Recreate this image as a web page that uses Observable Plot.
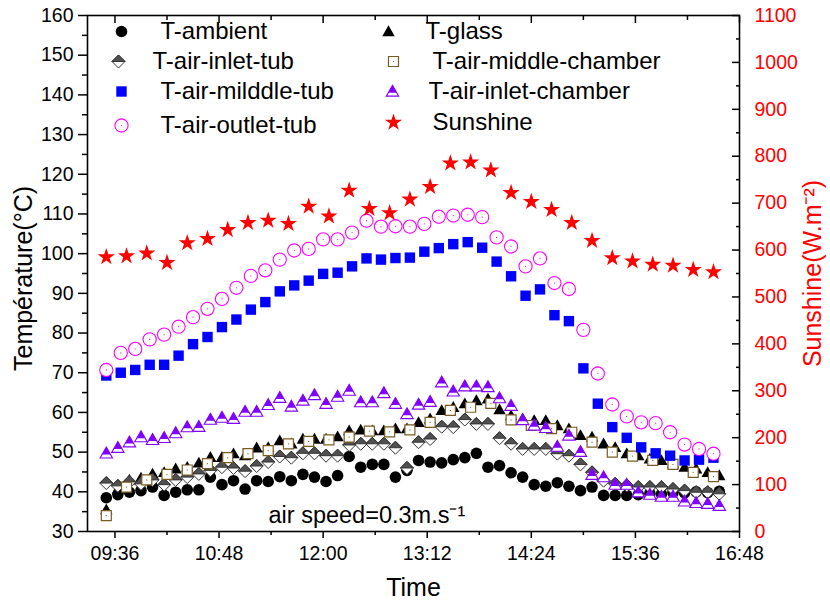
<!DOCTYPE html>
<html>
<head>
<meta charset="utf-8">
<script src="https://cdn.jsdelivr.net/npm/d3@7"></script>
<script src="https://cdn.jsdelivr.net/npm/@observablehq/plot@0.6"></script>
<style>
  html, body { margin: 0; padding: 0; background: #fff; }
  #chart svg { display: block; }
</style>
</head>
<body>
<div id="chart"></div>
<script>
// ---------------- DATA ----------------
// Sampling times (every 8 min) for T-ambient, T-glass, T-air-inlet-tub, T-air-inlet-chamber
const times8 = ["09:30","09:38","09:46","09:54","10:02","10:10","10:18","10:26","10:34","10:42",
  "10:50","10:58","11:06","11:14","11:22","11:30","11:38","11:46","11:54","12:02",
  "12:10","12:18","12:26","12:34","12:42","12:50","12:58","13:06","13:14","13:22",
  "13:30","13:38","13:46","13:54","14:02","14:10","14:18","14:26","14:34","14:42",
  "14:50","14:58","15:06","15:14","15:22","15:30","15:38","15:46","15:54","16:02",
  "16:10","16:18","16:26","16:34"];
// Sampling times (every 10 min) for T-air-milddle-tub, T-air-outlet-tub
const times10 = ["09:30","09:40","09:50","10:00","10:10","10:20","10:30","10:40","10:50","11:00",
  "11:10","11:20","11:30","11:40","11:50","12:00","12:10","12:20","12:30","12:40",
  "12:50","13:00","13:10","13:20","13:30","13:40","13:50","14:00","14:10","14:20",
  "14:30","14:40","14:50","15:00","15:10","15:20","15:30","15:40","15:50","16:00",
  "16:10","16:20","16:30"];
// Sampling times (every 14 min) for T-air-middle-chamber, Sunshine
const times14 = ["09:30","09:44","09:58","10:12","10:26","10:40","10:54","11:08","11:22","11:36",
  "11:50","12:04","12:18","12:32","12:46","13:00","13:14","13:28","13:42","13:56",
  "14:10","14:24","14:38","14:52","15:06","15:20","15:34","15:48","16:02","16:16","16:30"];

const tAmbient = [38.5,39.3,39.9,40.3,41.2,39.1,39.9,40.5,40.5,43.7,
  41.8,42.8,40.7,42.8,42.6,43.8,42.8,44.4,43.7,42.6,
  44.1,48.9,46.2,46.9,46.9,43.7,45.4,47.9,47.5,47.3,
  48.1,48.6,49.7,46.2,46.6,44.8,43.7,41.8,41.4,42.3,
  41.4,40.3,41.2,39.1,39.1,39.1,39.3,39.6,39.4,39.8,
  39.7,40.0,39.8,40.1];
const tGlass = [35.5,40.7,43.0,43.5,44.5,44.9,45.8,46.2,47.3,48.7,
  48.7,49.6,49.1,51.1,51.2,52.9,52.1,53.3,53.3,53.3,
  53.9,55.4,55.6,55.4,55.4,55.9,55.9,57.5,58.4,60.5,
  61.3,62.2,63.0,63.4,60.7,59.2,58.4,58.0,58.0,56.7,
  55.9,54.2,53.8,52.1,51.2,49.6,49.1,48.3,47.9,47.1,
  46.2,45.8,44.9,44.1];
const tAirInletTub = [42.2,41.5,42.5,42.0,43.0,41.8,43.0,43.7,44.5,45.4,
  46.2,46.0,45.2,46.5,47.5,48.9,48.6,49.7,49.7,49.1,
  49.1,51.8,52.1,52.1,52.1,51.1,46.0,52.5,53.3,56.4,
  56.3,58.2,57.1,57.1,53.5,52.1,50.8,50.8,50.8,49.6,
  49.1,46.9,44.9,42.8,42.0,41.6,41.2,41.2,41.2,40.7,
  40.3,39.9,39.9,39.5];
const tAirInletChamber = [49.7,51.1,52.5,53.8,53.1,53.6,54.8,56.3,56.4,58.2,
  58.7,58.4,60.2,60.2,61.9,63.7,61.5,63.0,64.4,62.2,
  64.0,65.5,62.6,62.6,64.9,62.2,59.6,62.0,62.7,67.6,
  65.3,66.6,66.6,66.4,63.6,61.7,58.1,56.7,56.1,51.4,
  54.2,50.1,44.3,43.7,41.8,41.8,39.9,39.3,38.8,38.8,
  37.6,37.2,37.0,36.5];
const tAirMilddleTub = [69.3,70.0,70.7,72.0,72.0,74.3,77.2,79.0,81.5,83.4,
  85.9,87.8,90.5,92.0,93.2,94.9,95.2,96.8,98.8,98.5,
  98.9,99.0,100.5,101.4,102.4,102.9,101.5,98.0,94.3,89.4,
  91.0,84.5,83.0,71.1,62.2,56.3,53.6,51.2,49.7,49.1,
  47.9,48.1,48.6];
const tAirOutletTub = [70.7,75.0,76.0,78.4,79.6,81.6,84.0,86.1,88.6,91.4,
  94.4,95.8,98.5,100.8,101.2,103.6,103.6,105.3,108.3,106.8,
  106.9,106.8,107.5,109.3,109.6,109.8,109.2,104.1,101.8,96.8,
  98.8,92.6,91.1,80.8,69.8,62.0,59.0,57.5,57.3,55.0,
  51.9,50.8,49.6];
const tAirMiddleChamber = [34.0,41.2,43.0,44.4,45.5,47.1,48.6,49.6,50.4,52.1,
  52.7,53.1,53.8,55.3,55.1,55.6,57.5,60.5,61.3,62.3,
  58.1,56.7,55.9,55.0,52.5,50.0,49.0,47.9,46.9,44.9,
  43.8];
const sunshine = [585,587,593,573,615,624,643,658,663,656,
  693,672,727,688,679,708,735,785,787,770,
  722,703,686,658,620,583,576,569,567,558,
  553];

// Axis ticks and labels
const xMajorTicks = ["09:36","10:48","12:00","13:12","14:24","15:36","16:48"];
const xMinorTicks = ["10:12","11:24","12:36","13:48","15:00","16:12"];
const xDomain = ["09:17","16:48"];
const tempDomain = [30, 160];
const tempMajorTicks = [30,40,50,60,70,80,90,100,110,120,130,140,150,160];
const tempMinorTicks = [35,45,55,65,75,85,95,105,115,125,135,145,155];
const sunDomain = [0, 1100];
const sunMajorTicks = [0,100,200,300,400,500,600,700,800,900,1000,1100];
const sunMinorTicks = [50,150,250,350,450,550,650,750,850,950,1050];

const legendLabels = ["T-ambient","T-glass","T-air-inlet-tub","T-air-middle-chamber",
  "T-air-milddle-tub","T-air-inlet-chamber","T-air-outlet-tub","Sunshine"];
const xTitle = "Time";
const yTitle = "Température(°C)";
const y2Title = "Sunshine(W.m⁻²)";
const note = "air speed=0.3m.s⁻¹";

// ---------------- HELPERS ----------------
const toMin = s => +s.slice(0, 2) * 60 + +s.slice(3, 5);
const fmtTime = m => String(Math.floor(m / 60)).padStart(2, "0") + ":" + String(Math.round(m % 60)).padStart(2, "0");
// map Sunshine (right axis) onto the temperature scale (shared y scale)
const sunToT = s => tempDomain[0] + (s - sunDomain[0]) * (tempDomain[1] - tempDomain[0]) / (sunDomain[1] - sunDomain[0]);
const tToSun = t => sunDomain[0] + (t - tempDomain[0]) * (sunDomain[1] - sunDomain[0]) / (tempDomain[1] - tempDomain[0]);

const d8 = times8.map((t, i) => ({t: toMin(t), amb: tAmbient[i], glass: tGlass[i], inTub: tAirInletTub[i], inCh: tAirInletChamber[i]}));
const d10 = times10.map((t, i) => ({t: toMin(t), midTub: tAirMilddleTub[i], outTub: tAirOutletTub[i]}));
const d14 = times14.map((t, i) => ({t: toMin(t), midCh: tAirMiddleChamber[i], sun: sunToT(sunshine[i])}));

// custom symbols (r = sqrt(size/PI))
const rad = size => Math.sqrt(size / Math.PI);
const symSquare = {draw(c, s) { const r = rad(s); c.moveTo(-r, -r); c.lineTo(r, -r); c.lineTo(r, r); c.lineTo(-r, r); c.closePath(); }};
const symDiamond = {draw(c, s) { const r = rad(s); c.moveTo(0, -r); c.lineTo(r, 0); c.lineTo(0, r); c.lineTo(-r, 0); c.closePath(); }};
const symDiamondTop = {draw(c, s) { const r = rad(s); c.moveTo(-r, 0); c.lineTo(0, -r); c.lineTo(r, 0); c.closePath(); }};
const symTri = {draw(c, s) { const r = rad(s); c.moveTo(0, -r); c.lineTo(r, 0.75 * r); c.lineTo(-r, 0.75 * r); c.closePath(); }};
const symTriTop = {draw(c, s) { const r = rad(s); const yc = 0.2 * r; const hw = r * (yc + r) / (1.75 * r); c.moveTo(0, -r); c.lineTo(hw, yc); c.lineTo(-hw, yc); c.closePath(); }};
const symStar = {draw(c, s) { const R = rad(s), ri = R * 0.382;
  for (let k = 0; k < 10; ++k) { const a = -Math.PI / 2 + k * Math.PI / 5; const rr = k % 2 ? ri : R;
    const x = rr * Math.cos(a), y = rr * Math.sin(a); k ? c.lineTo(x, y) : c.moveTo(x, y); }
  c.closePath(); }};

// marker styles per series (legend order)
const styles = {
  "T-ambient": [{symbol: "circle", r: 5.8, fill: "black"}],
  "T-glass": [{symbol: symTri, r: 6.2, fill: "black"}],
  "T-air-inlet-tub": [{symbol: symDiamond, r: 6.5, fill: "white", stroke: "#333", strokeWidth: 1},
                      {symbol: symDiamondTop, r: 6.5, fill: "#505050", stroke: "#333", strokeWidth: 1}],
  "T-air-middle-chamber": [{symbol: symSquare, r: 5, fill: "white", stroke: "#7a5c22", strokeWidth: 1.2},
                           {symbol: "circle", r: 0.6, fill: "#7a5c22"}],
  "T-air-milddle-tub": [{symbol: symSquare, r: 5.2, fill: "#0000ff"}],
  "T-air-inlet-chamber": [{symbol: symTri, r: 6.2, fill: "white", stroke: "#8000ff", strokeWidth: 1.1},
                          {symbol: symTriTop, r: 6.2, fill: "#8000ff"}],
  "T-air-outlet-tub": [{symbol: "circle", r: 6.6, fill: "white", stroke: "#ff00ff", strokeWidth: 1.1},
                       {symbol: "circle", r: 0.6, fill: "#ff00ff"}],
  "Sunshine": [{symbol: symStar, r: 9, fill: "#ff0000"}]
};
const seriesData = {
  "T-ambient": [d8, "amb"], "T-glass": [d8, "glass"], "T-air-inlet-tub": [d8, "inTub"],
  "T-air-middle-chamber": [d14, "midCh"], "T-air-milddle-tub": [d10, "midTub"],
  "T-air-inlet-chamber": [d8, "inCh"], "T-air-outlet-tub": [d10, "outTub"], "Sunshine": [d14, "sun"]
};

// legend layout (pixel offsets from the plot frame's top-left corner)
const legendPos = {
  "T-ambient": [34, 16, 73], "T-glass": [301, 16, 338],
  "T-air-inlet-tub": [31, 46, 65], "T-air-middle-chamber": [306, 46, 345],
  "T-air-milddle-tub": [34, 76, 73], "T-air-inlet-chamber": [305, 76, 341],
  "T-air-outlet-tub": [34, 110, 73], "Sunshine": [306, 107, 345]
};

const FONT = "'Liberation Sans', Arial, Helvetica, sans-serif";
const marks = [];

// data marks
for (const name of legendLabels) {
  const [data, key] = seriesData[name];
  for (const st of styles[name]) marks.push(Plot.dot(data, {x: "t", y: key, ...st}));
}
// legend
for (const name of legendLabels) {
  const [dx, dy, tx] = legendPos[name];
  for (const st of styles[name]) marks.push(Plot.dot([name], {frameAnchor: "top-left", dx, dy, ...st}));
  marks.push(Plot.text([name], {frameAnchor: "top-left", dx: tx, dy, text: d => d, textAnchor: "start", lineAnchor: "middle", fontSize: 24, fill: "black"}));
}

// frame + axes
marks.push(Plot.frame({stroke: "black", strokeWidth: 1.6}));
marks.push(Plot.axisX({anchor: "bottom", ticks: xMajorTicks.map(toMin), tickFormat: fmtTime, tickSize: 7, tickPadding: 8, strokeWidth: 1.5, fontSize: 19.5, label: null}));
marks.push(Plot.axisX({anchor: "bottom", ticks: xMinorTicks.map(toMin), tickFormat: () => "", tickSize: 4, strokeWidth: 1.5, label: null}));
marks.push(Plot.axisX({anchor: "top", ticks: xMajorTicks.map(toMin), tickFormat: () => "", tickSize: 7, dy: 7, strokeWidth: 1.5, label: null}));
marks.push(Plot.axisX({anchor: "top", ticks: xMinorTicks.map(toMin), tickFormat: () => "", tickSize: 4, dy: 4, strokeWidth: 1.5, label: null}));
marks.push(Plot.axisY({anchor: "left", ticks: tempMajorTicks, tickSize: 9, tickPadding: 5, strokeWidth: 1.5, fontSize: 19.5, label: null}));
marks.push(Plot.axisY({anchor: "left", ticks: tempMinorTicks, tickFormat: () => "", tickSize: 5, strokeWidth: 1.5, label: null}));
marks.push(Plot.axisY({anchor: "right", ticks: sunMajorTicks.map(sunToT), tickFormat: t => String(Math.round(tToSun(t))), tickSize: 8, dx: -8, tickPadding: 15, strokeWidth: 1.5, stroke: "black", fill: "#ff0000", fontSize: 19.5, label: null}));
marks.push(Plot.axisY({anchor: "right", ticks: sunMinorTicks.map(sunToT), tickFormat: () => "", tickSize: 4, dx: -4, strokeWidth: 1.5, stroke: "black", label: null}));

// titles
marks.push(Plot.text([xTitle], {frameAnchor: "bottom", dy: 64, text: d => d, textAnchor: "middle", fontSize: 25, fill: "black"}));
marks.push(Plot.text([yTitle], {frameAnchor: "left", dx: -64, dy: 5, rotate: -90, text: d => d, textAnchor: "middle", fontSize: 25, fill: "black"}));
marks.push(Plot.text([y2Title], {frameAnchor: "right", dx: 73, dy: 0, rotate: -90, text: d => d, textAnchor: "middle", fontSize: 25, fill: "#ff0000"}));
marks.push(Plot.text([note], {frameAnchor: "bottom-left", dx: 181, dy: -16, text: d => d, textAnchor: "start", lineAnchor: "middle", fontSize: 23.5, fill: "black"}));

const chart = Plot.plot({
  width: 830,
  height: 602,
  marginLeft: 87,
  marginRight: 91,
  marginTop: 15,
  marginBottom: 71,
  style: {fontFamily: FONT, background: "#fff", color: "black", overflow: "visible"},
  x: {type: "linear", domain: xDomain.map(toMin)},
  y: {type: "linear", domain: tempDomain},
  marks
});
document.getElementById("chart").appendChild(chart);
</script>
</body>
</html>
